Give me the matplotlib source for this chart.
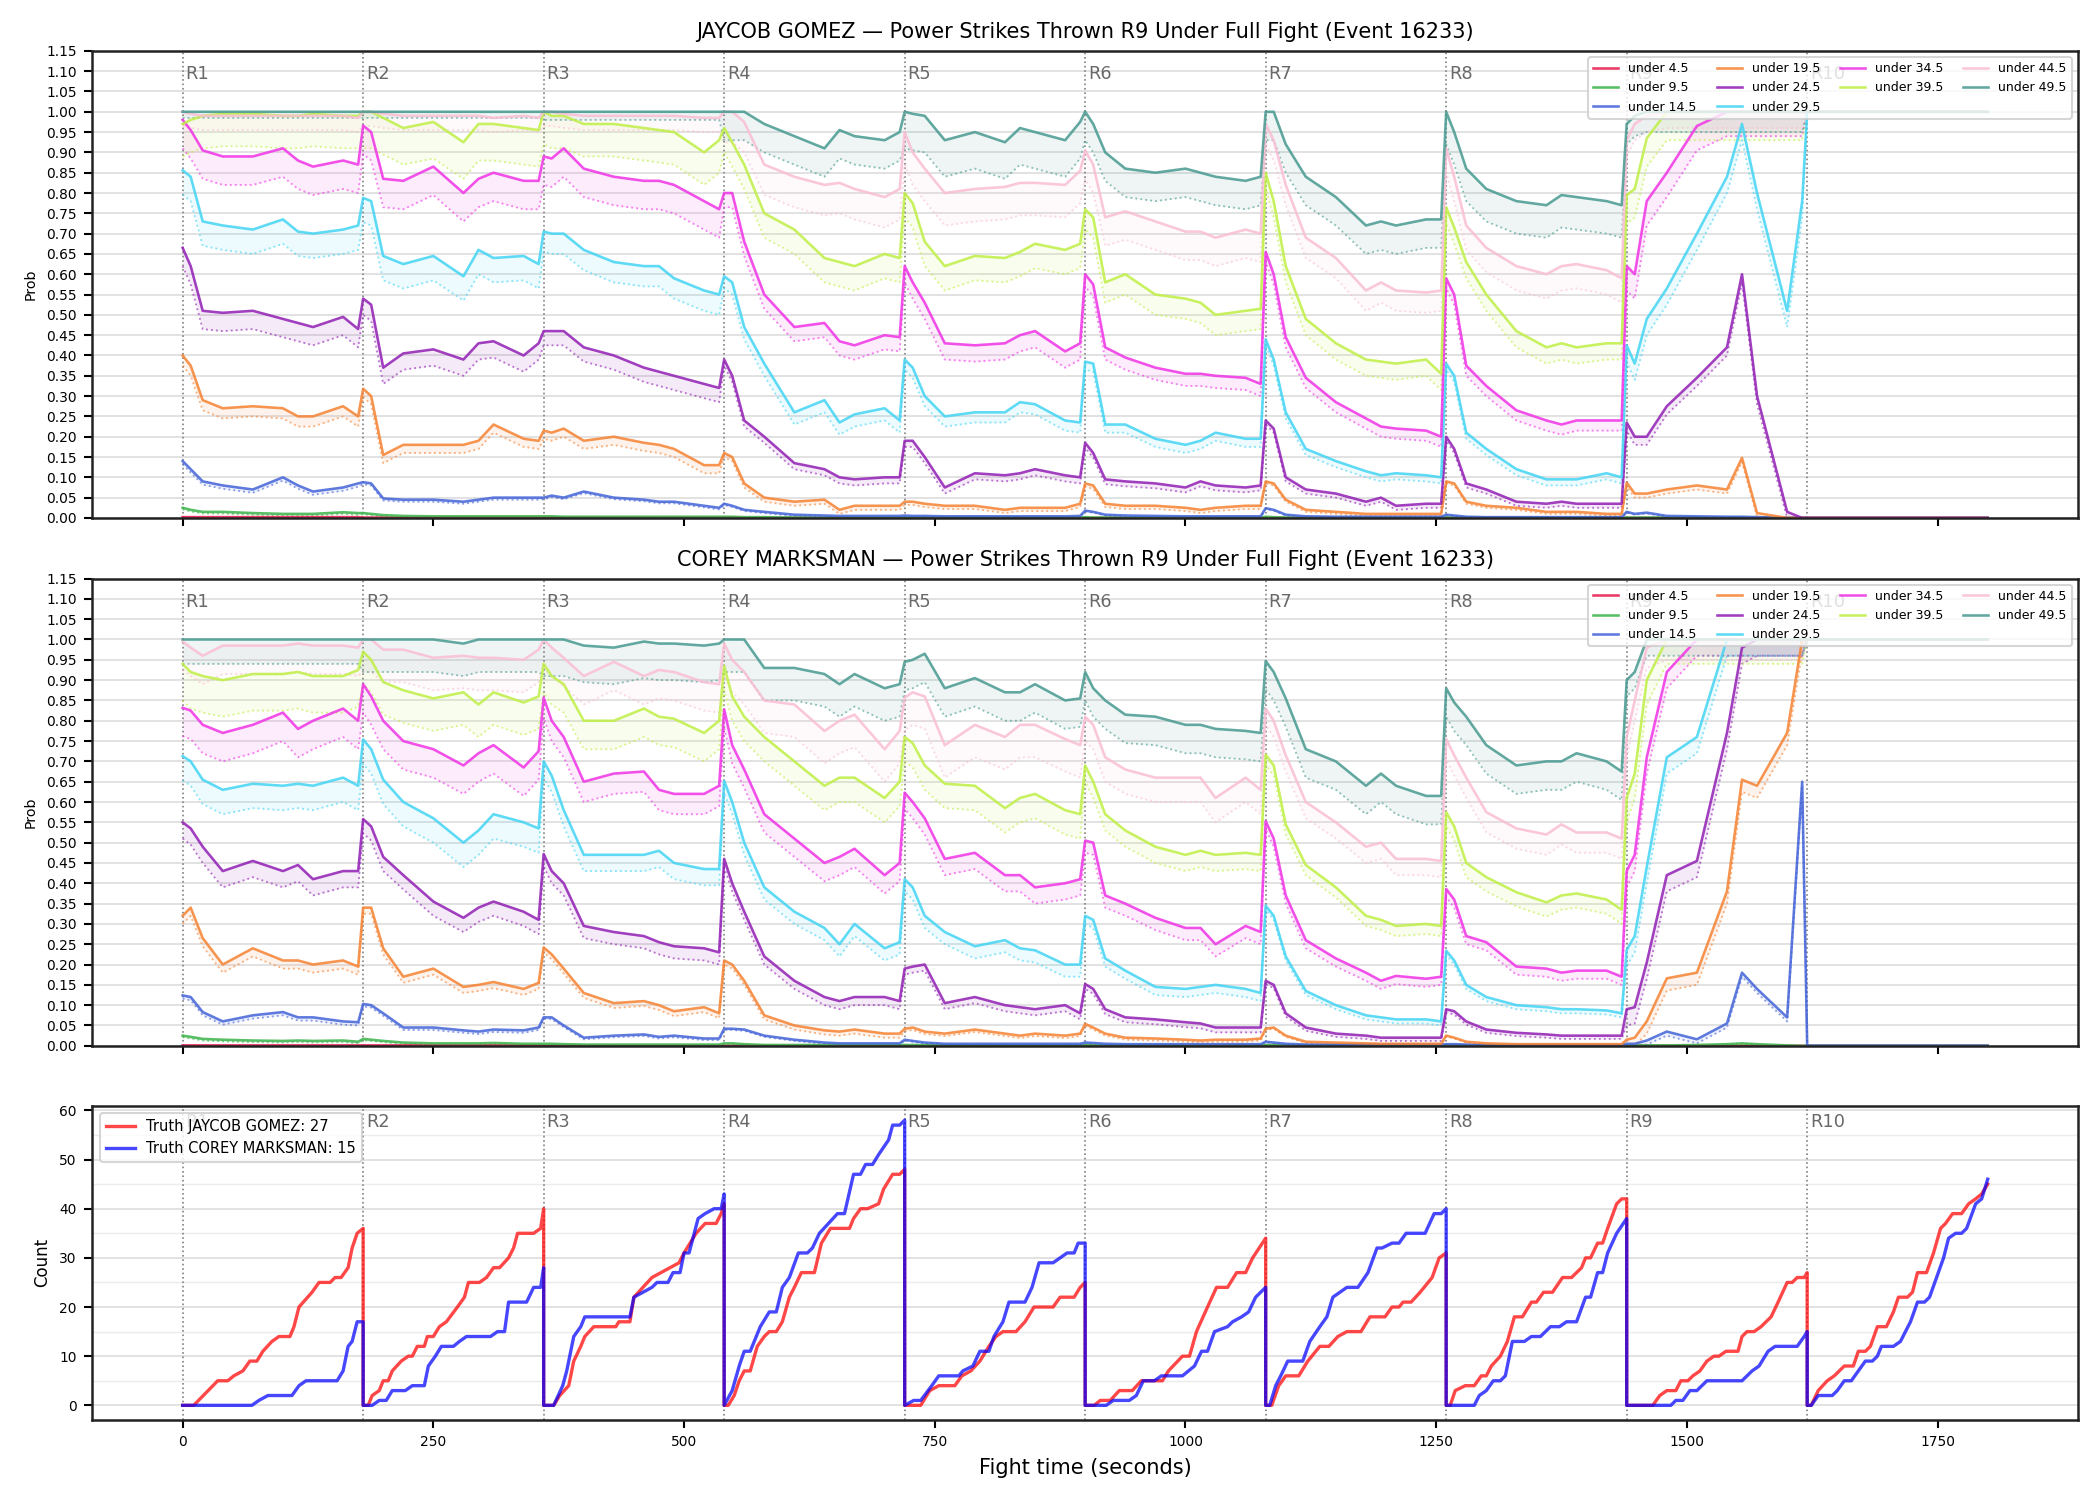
import numpy as np
import matplotlib.pyplot as plt
import matplotlib.transforms as mtransforms
from matplotlib.ticker import MultipleLocator

EVENT = 16233
FIGHTERS = ["JAYCOB GOMEZ", "COREY MARKSMAN"]
TRUTH_R9 = [27, 15]
LINES = [4.5, 9.5, 14.5, 19.5, 24.5, 29.5, 34.5, 39.5, 44.5, 49.5]
COLORS = ["#e6194b", "#3cb44b", "#4363d8", "#f58231", "#911eb4",
          "#42d4f4", "#f032e6", "#bfef45", "#fabed4", "#469990"]
ROUND_STARTS = [0, 180, 360, 540, 720, 900, 1080, 1260, 1440, 1620]
FIGHT_END = 1800
# seconds into each round where the probabilities were read
OFFS = [0, 8, 20, 40, 70, 100, 115, 130, 160, 175]

# ---- JAYCOB GOMEZ: P(R9 power strikes under line), rows = R1..R9 ----
JG_U4 = [
    [0.002, 0.002, 0.002, 0.002, 0.002, 0.002, 0.002, 0.002, 0.002, 0.002],
    [0.001, 0.001, 0.001, 0.001, 0.001, 0.001, 0.001, 0.001, 0.001, 0.001],
    [0.001, 0.001, 0.001, 0.001, 0.001, 0.001, 0.001, 0.001, 0.001, 0.001],
    [0.001, 0.001, 0.0, 0.0, 0.0, 0.0, 0.0, 0.0, 0.0, 0.0],
    [0.0, 0.0, 0.0, 0.0, 0.0, 0.0, 0.0, 0.0, 0.0, 0.0],
    [0.0, 0.0, 0.0, 0.0, 0.0, 0.0, 0.0, 0.0, 0.0, 0.0],
    [0.0, 0.0, 0.0, 0.0, 0.0, 0.0, 0.0, 0.0, 0.0, 0.0],
    [0.0, 0.0, 0.0, 0.0, 0.0, 0.0, 0.0, 0.0, 0.0, 0.0],
    [0.0, 0.0, 0.0, 0.0, 0.0, 0.0, 0.0, 0.0, 0.0, 0.0],
]
JG_U9 = [
    [0.025, 0.02, 0.015, 0.015, 0.012, 0.01, 0.01, 0.01, 0.014, 0.012],
    [0.012, 0.01, 0.007, 0.005, 0.004, 0.004, 0.004, 0.004, 0.004, 0.004],
    [0.004, 0.004, 0.003, 0.003, 0.003, 0.003, 0.003, 0.003, 0.003, 0.003],
    [0.003, 0.003, 0.002, 0.002, 0.001, 0.001, 0.001, 0.001, 0.001, 0.001],
    [0.001, 0.001, 0.001, 0.001, 0.001, 0.001, 0.001, 0.001, 0.001, 0.001],
    [0.002, 0.001, 0.001, 0.001, 0.001, 0.001, 0.001, 0.001, 0.001, 0.001],
    [0.003, 0.002, 0.001, 0.001, 0.001, 0.001, 0.001, 0.001, 0.001, 0.001],
    [0.001, 0.001, 0.001, 0.001, 0.001, 0.001, 0.001, 0.001, 0.001, 0.001],
    [0.001, 0.001, 0.001, 0.001, 0.001, 0.001, 0.001, 0.0, 0.0, 0.0],
]
JG_U14 = [
    [0.14, 0.12, 0.09, 0.08, 0.07, 0.10, 0.08, 0.065, 0.075, 0.085],
    [0.088, 0.085, 0.048, 0.045, 0.045, 0.04, 0.045, 0.05, 0.05, 0.05],
    [0.05, 0.055, 0.05, 0.065, 0.05, 0.045, 0.04, 0.04, 0.03, 0.025],
    [0.035, 0.03, 0.02, 0.015, 0.008, 0.006, 0.005, 0.005, 0.005, 0.005],
    [0.006, 0.005, 0.005, 0.004, 0.004, 0.004, 0.004, 0.004, 0.004, 0.005],
    [0.018, 0.015, 0.008, 0.006, 0.005, 0.004, 0.004, 0.004, 0.004, 0.004],
    [0.024, 0.02, 0.008, 0.004, 0.003, 0.003, 0.003, 0.003, 0.003, 0.003],
    [0.008, 0.006, 0.003, 0.002, 0.002, 0.002, 0.002, 0.002, 0.002, 0.002],
    [0.015, 0.01, 0.013, 0.005, 0.004, 0.003, 0.003, 0.002, 0.0, 0.0],
]
JG_U19 = [
    [0.40, 0.375, 0.29, 0.27, 0.275, 0.27, 0.25, 0.25, 0.275, 0.25],
    [0.318, 0.30, 0.155, 0.18, 0.18, 0.18, 0.19, 0.23, 0.195, 0.19],
    [0.215, 0.21, 0.22, 0.19, 0.20, 0.185, 0.18, 0.17, 0.13, 0.13],
    [0.16, 0.15, 0.085, 0.05, 0.04, 0.045, 0.02, 0.03, 0.03, 0.03],
    [0.04, 0.04, 0.035, 0.03, 0.03, 0.02, 0.025, 0.025, 0.025, 0.035],
    [0.085, 0.08, 0.035, 0.03, 0.03, 0.025, 0.02, 0.025, 0.03, 0.03],
    [0.09, 0.085, 0.045, 0.02, 0.015, 0.01, 0.01, 0.01, 0.01, 0.01],
    [0.09, 0.085, 0.04, 0.03, 0.025, 0.015, 0.015, 0.015, 0.01, 0.01],
    [0.087, 0.06, 0.06, 0.07, 0.08, 0.07, 0.148, 0.012, 0.0, 0.0],
]
JG_U24 = [
    [0.665, 0.62, 0.51, 0.505, 0.51, 0.49, 0.48, 0.47, 0.495, 0.465],
    [0.54, 0.525, 0.37, 0.405, 0.415, 0.39, 0.43, 0.435, 0.40, 0.43],
    [0.46, 0.46, 0.46, 0.42, 0.40, 0.37, 0.36, 0.35, 0.33, 0.32],
    [0.39, 0.35, 0.24, 0.20, 0.135, 0.12, 0.10, 0.095, 0.10, 0.10],
    [0.19, 0.19, 0.15, 0.075, 0.11, 0.105, 0.11, 0.12, 0.105, 0.10],
    [0.185, 0.16, 0.095, 0.09, 0.085, 0.075, 0.09, 0.08, 0.075, 0.08],
    [0.24, 0.22, 0.10, 0.07, 0.06, 0.04, 0.05, 0.03, 0.035, 0.035],
    [0.20, 0.17, 0.085, 0.07, 0.04, 0.035, 0.04, 0.035, 0.035, 0.035],
    [0.235, 0.20, 0.20, 0.275, 0.345, 0.42, 0.60, 0.30, 0.015, 0.0],
]
JG_U29 = [
    [0.856, 0.84, 0.73, 0.72, 0.71, 0.735, 0.705, 0.70, 0.71, 0.72],
    [0.788, 0.78, 0.645, 0.625, 0.645, 0.595, 0.66, 0.64, 0.645, 0.625],
    [0.705, 0.70, 0.70, 0.66, 0.63, 0.62, 0.62, 0.59, 0.56, 0.55],
    [0.595, 0.58, 0.47, 0.38, 0.26, 0.29, 0.235, 0.255, 0.27, 0.24],
    [0.39, 0.37, 0.30, 0.25, 0.26, 0.26, 0.285, 0.28, 0.24, 0.235],
    [0.385, 0.38, 0.23, 0.23, 0.195, 0.18, 0.19, 0.21, 0.195, 0.195],
    [0.44, 0.39, 0.26, 0.17, 0.14, 0.115, 0.105, 0.11, 0.105, 0.10],
    [0.38, 0.35, 0.21, 0.17, 0.12, 0.095, 0.095, 0.095, 0.11, 0.10],
    [0.425, 0.38, 0.49, 0.565, 0.70, 0.84, 0.97, 0.80, 0.51, 0.78],
]
JG_U34 = [
    [0.98, 0.955, 0.905, 0.89, 0.89, 0.91, 0.88, 0.865, 0.88, 0.87],
    [0.966, 0.95, 0.835, 0.83, 0.865, 0.80, 0.835, 0.85, 0.83, 0.83],
    [0.89, 0.885, 0.91, 0.86, 0.84, 0.83, 0.83, 0.82, 0.78, 0.76],
    [0.80, 0.80, 0.68, 0.55, 0.47, 0.48, 0.435, 0.425, 0.45, 0.445],
    [0.62, 0.58, 0.53, 0.43, 0.425, 0.43, 0.45, 0.46, 0.41, 0.43],
    [0.60, 0.575, 0.42, 0.395, 0.37, 0.355, 0.355, 0.35, 0.345, 0.33],
    [0.655, 0.60, 0.445, 0.345, 0.285, 0.245, 0.225, 0.22, 0.215, 0.20],
    [0.59, 0.55, 0.375, 0.325, 0.265, 0.24, 0.23, 0.24, 0.24, 0.24],
    [0.62, 0.60, 0.78, 0.85, 0.965, 1.0, 1.0, 1.0, 1.0, 1.0],
]
JG_U39 = [
    [0.97, 0.98, 0.99, 0.995, 0.995, 0.99, 0.99, 0.995, 0.99, 0.99],
    [1.0, 1.0, 0.985, 0.96, 0.975, 0.925, 0.97, 0.97, 0.96, 0.955],
    [1.0, 0.99, 0.99, 0.97, 0.97, 0.96, 0.955, 0.95, 0.90, 0.93],
    [0.96, 0.925, 0.87, 0.75, 0.71, 0.64, 0.63, 0.62, 0.65, 0.64],
    [0.80, 0.775, 0.68, 0.62, 0.645, 0.64, 0.655, 0.675, 0.66, 0.675],
    [0.76, 0.74, 0.58, 0.60, 0.55, 0.54, 0.53, 0.50, 0.51, 0.515],
    [0.85, 0.78, 0.62, 0.49, 0.43, 0.39, 0.385, 0.38, 0.39, 0.355],
    [0.765, 0.715, 0.63, 0.55, 0.46, 0.42, 0.43, 0.42, 0.43, 0.43],
    [0.795, 0.81, 0.935, 1.0, 1.0, 1.0, 1.0, 1.0, 1.0, 1.0],
]
JG_U44 = [
    [1.0, 0.995, 0.99, 0.99, 0.99, 0.99, 0.99, 0.99, 0.99, 0.985],
    [1.0, 1.0, 0.995, 0.99, 0.99, 0.99, 0.99, 0.985, 0.99, 0.985],
    [1.0, 1.0, 0.995, 0.99, 0.99, 0.99, 0.99, 0.99, 0.985, 0.985],
    [1.0, 1.0, 0.975, 0.87, 0.84, 0.82, 0.825, 0.81, 0.79, 0.81],
    [0.95, 0.90, 0.86, 0.80, 0.81, 0.815, 0.825, 0.825, 0.82, 0.855],
    [0.905, 0.87, 0.74, 0.755, 0.73, 0.705, 0.705, 0.69, 0.71, 0.70],
    [0.97, 0.93, 0.82, 0.69, 0.64, 0.56, 0.58, 0.56, 0.555, 0.56],
    [0.91, 0.84, 0.72, 0.665, 0.62, 0.60, 0.62, 0.625, 0.61, 0.59],
    [0.93, 0.97, 0.99, 1.0, 1.0, 1.0, 1.0, 1.0, 1.0, 1.0],
]
JG_U49 = [
    [1.0, 1.0, 1.0, 1.0, 1.0, 1.0, 1.0, 1.0, 1.0, 1.0],
    [1.0, 1.0, 1.0, 1.0, 1.0, 1.0, 1.0, 1.0, 1.0, 1.0],
    [1.0, 1.0, 1.0, 1.0, 1.0, 1.0, 1.0, 1.0, 1.0, 1.0],
    [1.0, 1.0, 1.0, 0.97, 0.94, 0.91, 0.955, 0.94, 0.93, 0.95],
    [1.0, 0.995, 0.99, 0.93, 0.95, 0.925, 0.96, 0.95, 0.93, 0.975],
    [1.0, 0.97, 0.90, 0.86, 0.85, 0.86, 0.85, 0.84, 0.83, 0.84],
    [1.0, 1.0, 0.92, 0.84, 0.79, 0.72, 0.73, 0.72, 0.735, 0.735],
    [1.0, 0.95, 0.86, 0.81, 0.78, 0.77, 0.795, 0.79, 0.78, 0.77],
    [0.97, 0.99, 1.0, 1.0, 1.0, 1.0, 1.0, 1.0, 1.0, 1.0],
]
# distance from the solid line down to the dotted line, per round R1..R9
JG_GAP = [
    [0.001, 0.001, 0.001, 0.0, 0.0, 0.0, 0.0, 0.0, 0.0],
    [0.004, 0.003, 0.002, 0.001, 0.001, 0.001, 0.001, 0.001, 0.001],
    [0.008, 0.005, 0.004, 0.003, 0.002, 0.002, 0.002, 0.001, 0.002],
    [0.025, 0.02, 0.02, 0.01, 0.008, 0.008, 0.005, 0.005, 0.01],
    [0.045, 0.04, 0.035, 0.015, 0.015, 0.012, 0.01, 0.01, 0.02],
    [0.06, 0.06, 0.05, 0.03, 0.025, 0.02, 0.015, 0.015, 0.04],
    [0.07, 0.07, 0.07, 0.035, 0.04, 0.03, 0.025, 0.025, 0.06],
    [0.08, 0.09, 0.08, 0.06, 0.06, 0.05, 0.04, 0.04, 0.07],
    [0.035, 0.035, 0.035, 0.075, 0.08, 0.07, 0.05, 0.06, 0.04],
    [0.015, 0.015, 0.02, 0.07, 0.09, 0.07, 0.07, 0.08, 0.05],
]

# ---- COREY MARKSMAN ----
CM_U4 = [
    [0.001, 0.001, 0.001, 0.001, 0.001, 0.001, 0.001, 0.001, 0.001, 0.001],
    [0.001, 0.001, 0.001, 0.001, 0.001, 0.001, 0.001, 0.001, 0.001, 0.001],
    [0.0, 0.0, 0.0, 0.0, 0.0, 0.0, 0.0, 0.0, 0.0, 0.0],
    [0.0, 0.0, 0.0, 0.0, 0.0, 0.0, 0.0, 0.0, 0.0, 0.0],
    [0.0, 0.0, 0.0, 0.0, 0.0, 0.0, 0.0, 0.0, 0.0, 0.0],
    [0.0, 0.0, 0.0, 0.0, 0.0, 0.0, 0.0, 0.0, 0.0, 0.0],
    [0.0, 0.0, 0.0, 0.0, 0.0, 0.0, 0.0, 0.0, 0.0, 0.0],
    [0.0, 0.0, 0.0, 0.0, 0.0, 0.0, 0.0, 0.0, 0.0, 0.0],
    [0.0, 0.0, 0.0, 0.0, 0.0, 0.0, 0.0, 0.0, 0.0, 0.0],
]
CM_U9 = [
    [0.025, 0.022, 0.017, 0.015, 0.013, 0.012, 0.013, 0.012, 0.013, 0.01],
    [0.017, 0.015, 0.012, 0.008, 0.006, 0.006, 0.006, 0.007, 0.005, 0.005],
    [0.005, 0.005, 0.004, 0.003, 0.003, 0.003, 0.003, 0.003, 0.003, 0.003],
    [0.006, 0.006, 0.004, 0.002, 0.002, 0.002, 0.002, 0.002, 0.002, 0.002],
    [0.002, 0.002, 0.002, 0.001, 0.001, 0.001, 0.001, 0.001, 0.001, 0.001],
    [0.002, 0.002, 0.001, 0.001, 0.001, 0.001, 0.001, 0.001, 0.001, 0.001],
    [0.002, 0.002, 0.001, 0.001, 0.001, 0.001, 0.001, 0.001, 0.001, 0.001],
    [0.001, 0.001, 0.001, 0.001, 0.001, 0.001, 0.001, 0.001, 0.001, 0.001],
    [0.001, 0.001, 0.001, 0.001, 0.002, 0.004, 0.006, 0.004, 0.001, 0.0],
]
CM_U14 = [
    [0.124, 0.12, 0.083, 0.06, 0.075, 0.083, 0.07, 0.07, 0.06, 0.058],
    [0.103, 0.10, 0.08, 0.045, 0.045, 0.038, 0.035, 0.04, 0.038, 0.045],
    [0.07, 0.07, 0.05, 0.02, 0.025, 0.028, 0.022, 0.025, 0.018, 0.018],
    [0.042, 0.042, 0.04, 0.025, 0.015, 0.008, 0.006, 0.006, 0.006, 0.006],
    [0.015, 0.012, 0.008, 0.005, 0.005, 0.005, 0.005, 0.005, 0.005, 0.005],
    [0.008, 0.007, 0.005, 0.004, 0.004, 0.004, 0.004, 0.004, 0.004, 0.004],
    [0.01, 0.008, 0.005, 0.003, 0.003, 0.003, 0.003, 0.003, 0.003, 0.003],
    [0.004, 0.004, 0.003, 0.002, 0.002, 0.002, 0.002, 0.002, 0.002, 0.002],
    [0.005, 0.005, 0.013, 0.035, 0.016, 0.055, 0.18, 0.14, 0.07, 0.65],
]
CM_U19 = [
    [0.32, 0.34, 0.265, 0.20, 0.24, 0.21, 0.21, 0.20, 0.21, 0.195],
    [0.34, 0.34, 0.24, 0.17, 0.19, 0.145, 0.15, 0.157, 0.14, 0.155],
    [0.242, 0.225, 0.19, 0.13, 0.105, 0.11, 0.10, 0.085, 0.095, 0.08],
    [0.21, 0.20, 0.16, 0.075, 0.05, 0.038, 0.035, 0.04, 0.03, 0.03],
    [0.042, 0.045, 0.035, 0.03, 0.04, 0.03, 0.025, 0.03, 0.025, 0.03],
    [0.054, 0.045, 0.03, 0.02, 0.018, 0.015, 0.013, 0.015, 0.015, 0.018],
    [0.042, 0.045, 0.025, 0.01, 0.008, 0.006, 0.005, 0.005, 0.005, 0.005],
    [0.025, 0.02, 0.01, 0.006, 0.004, 0.004, 0.004, 0.004, 0.004, 0.004],
    [0.015, 0.02, 0.06, 0.166, 0.18, 0.38, 0.655, 0.64, 0.77, 1.0],
]
CM_U24 = [
    [0.55, 0.535, 0.49, 0.43, 0.455, 0.43, 0.445, 0.41, 0.43, 0.43],
    [0.558, 0.54, 0.465, 0.42, 0.355, 0.315, 0.34, 0.355, 0.33, 0.31],
    [0.472, 0.43, 0.40, 0.295, 0.28, 0.27, 0.255, 0.245, 0.24, 0.23],
    [0.46, 0.40, 0.33, 0.22, 0.16, 0.12, 0.11, 0.12, 0.12, 0.11],
    [0.19, 0.195, 0.20, 0.105, 0.12, 0.10, 0.095, 0.09, 0.10, 0.08],
    [0.152, 0.14, 0.09, 0.07, 0.065, 0.058, 0.055, 0.045, 0.045, 0.045],
    [0.16, 0.15, 0.08, 0.045, 0.03, 0.025, 0.02, 0.02, 0.02, 0.02],
    [0.09, 0.085, 0.06, 0.04, 0.032, 0.028, 0.025, 0.025, 0.025, 0.025],
    [0.09, 0.095, 0.205, 0.42, 0.455, 0.77, 0.98, 1.0, 1.0, 1.0],
]
CM_U29 = [
    [0.713, 0.70, 0.655, 0.63, 0.645, 0.64, 0.645, 0.64, 0.66, 0.64],
    [0.754, 0.73, 0.655, 0.60, 0.56, 0.50, 0.53, 0.57, 0.55, 0.535],
    [0.70, 0.665, 0.58, 0.47, 0.47, 0.47, 0.48, 0.45, 0.435, 0.435],
    [0.652, 0.60, 0.50, 0.39, 0.33, 0.29, 0.25, 0.30, 0.24, 0.255],
    [0.41, 0.39, 0.32, 0.28, 0.245, 0.26, 0.24, 0.235, 0.20, 0.20],
    [0.32, 0.31, 0.215, 0.185, 0.145, 0.14, 0.145, 0.15, 0.14, 0.13],
    [0.345, 0.32, 0.22, 0.135, 0.10, 0.075, 0.07, 0.065, 0.065, 0.06],
    [0.234, 0.21, 0.15, 0.12, 0.10, 0.095, 0.09, 0.09, 0.087, 0.08],
    [0.236, 0.27, 0.44, 0.71, 0.76, 1.0, 1.0, 1.0, 1.0, 1.0],
]
CM_U34 = [
    [0.832, 0.825, 0.79, 0.77, 0.79, 0.82, 0.78, 0.80, 0.83, 0.80],
    [0.89, 0.86, 0.80, 0.75, 0.73, 0.69, 0.72, 0.74, 0.685, 0.725],
    [0.857, 0.80, 0.76, 0.65, 0.67, 0.675, 0.63, 0.62, 0.62, 0.64],
    [0.828, 0.74, 0.68, 0.57, 0.51, 0.45, 0.465, 0.485, 0.42, 0.45],
    [0.623, 0.60, 0.56, 0.46, 0.475, 0.42, 0.42, 0.39, 0.40, 0.41],
    [0.505, 0.50, 0.37, 0.35, 0.315, 0.29, 0.29, 0.25, 0.295, 0.28],
    [0.553, 0.51, 0.37, 0.26, 0.215, 0.18, 0.16, 0.172, 0.165, 0.17],
    [0.386, 0.36, 0.27, 0.255, 0.195, 0.19, 0.18, 0.185, 0.185, 0.17],
    [0.43, 0.47, 0.71, 0.92, 1.0, 1.0, 1.0, 1.0, 1.0, 1.0],
]
CM_U39 = [
    [0.94, 0.92, 0.91, 0.90, 0.915, 0.915, 0.92, 0.91, 0.91, 0.925],
    [0.97, 0.95, 0.895, 0.875, 0.855, 0.87, 0.84, 0.87, 0.845, 0.86],
    [0.94, 0.91, 0.89, 0.80, 0.80, 0.83, 0.81, 0.805, 0.77, 0.80],
    [0.935, 0.86, 0.81, 0.76, 0.70, 0.64, 0.66, 0.66, 0.61, 0.65],
    [0.76, 0.745, 0.69, 0.645, 0.64, 0.585, 0.61, 0.62, 0.58, 0.57],
    [0.69, 0.65, 0.57, 0.53, 0.49, 0.47, 0.48, 0.47, 0.475, 0.47],
    [0.717, 0.69, 0.545, 0.445, 0.39, 0.32, 0.31, 0.295, 0.30, 0.295],
    [0.575, 0.54, 0.45, 0.415, 0.378, 0.353, 0.37, 0.375, 0.36, 0.335],
    [0.61, 0.67, 0.90, 1.0, 1.0, 1.0, 1.0, 1.0, 1.0, 1.0],
]
CM_U44 = [
    [0.995, 0.98, 0.96, 0.985, 0.985, 0.985, 0.99, 0.985, 0.985, 0.98],
    [1.0, 1.0, 0.975, 0.975, 0.955, 0.96, 0.955, 0.955, 0.95, 0.975],
    [1.0, 0.98, 0.955, 0.91, 0.945, 0.91, 0.925, 0.92, 0.895, 0.89],
    [0.99, 0.95, 0.92, 0.85, 0.84, 0.775, 0.80, 0.815, 0.73, 0.775],
    [0.857, 0.87, 0.86, 0.74, 0.79, 0.76, 0.79, 0.79, 0.755, 0.74],
    [0.81, 0.79, 0.71, 0.68, 0.66, 0.66, 0.66, 0.61, 0.66, 0.63],
    [0.83, 0.80, 0.715, 0.60, 0.55, 0.49, 0.50, 0.46, 0.46, 0.455],
    [0.755, 0.715, 0.66, 0.575, 0.535, 0.52, 0.545, 0.525, 0.525, 0.51],
    [0.76, 0.85, 0.98, 1.0, 1.0, 1.0, 1.0, 1.0, 1.0, 1.0],
]
CM_U49 = [
    [1.0, 1.0, 1.0, 1.0, 1.0, 1.0, 1.0, 1.0, 1.0, 1.0],
    [1.0, 1.0, 1.0, 1.0, 1.0, 0.99, 1.0, 1.0, 1.0, 1.0],
    [1.0, 1.0, 1.0, 0.985, 0.98, 0.995, 0.99, 0.99, 0.985, 0.99],
    [1.0, 1.0, 1.0, 0.93, 0.93, 0.915, 0.89, 0.915, 0.88, 0.89],
    [0.945, 0.95, 0.965, 0.88, 0.905, 0.87, 0.87, 0.89, 0.85, 0.855],
    [0.92, 0.88, 0.85, 0.815, 0.81, 0.79, 0.79, 0.78, 0.775, 0.77],
    [0.947, 0.92, 0.855, 0.73, 0.70, 0.64, 0.67, 0.64, 0.615, 0.615],
    [0.88, 0.845, 0.81, 0.74, 0.69, 0.70, 0.70, 0.72, 0.70, 0.675],
    [0.90, 0.92, 1.0, 1.0, 1.0, 1.0, 1.0, 1.0, 1.0, 1.0],
]
CM_GAP = [
    [0.001, 0.001, 0.0, 0.0, 0.0, 0.0, 0.0, 0.0, 0.0],
    [0.004, 0.003, 0.002, 0.001, 0.001, 0.001, 0.001, 0.001, 0.001],
    [0.008, 0.006, 0.004, 0.003, 0.002, 0.002, 0.001, 0.001, 0.01],
    [0.02, 0.015, 0.012, 0.01, 0.006, 0.005, 0.003, 0.002, 0.03],
    [0.04, 0.035, 0.03, 0.02, 0.015, 0.012, 0.008, 0.008, 0.04],
    [0.06, 0.06, 0.04, 0.03, 0.03, 0.02, 0.01, 0.01, 0.04],
    [0.07, 0.07, 0.05, 0.045, 0.04, 0.03, 0.02, 0.02, 0.04],
    [0.09, 0.08, 0.07, 0.06, 0.06, 0.04, 0.025, 0.035, 0.06],
    [0.07, 0.08, 0.07, 0.08, 0.08, 0.06, 0.04, 0.05, 0.05],
    [0.06, 0.08, 0.09, 0.08, 0.07, 0.07, 0.07, 0.07, 0.04],
]

# ---- cumulative truth counts within each round: (fight second, count) ----
JG_COUNT = [
    (0, 0), (11, 0), (35, 5), (45, 5), (51, 6), (60, 7), (67, 9), (74, 9), (80, 11), (89, 13),
    (96, 14), (107, 14), (111, 16), (116, 20), (129, 23), (136, 25), (147, 25), (152, 26),
    (158, 26), (165, 28), (169, 32), (174, 35), (180, 36),
    (180, 0), (185, 0), (189, 2), (196, 3), (200, 5), (205, 5), (209, 7), (218, 9), (225, 10),
    (229, 10), (234, 12), (241, 12), (244, 14), (250, 14), (256, 16), (263, 17), (274, 20),
    (281, 22), (285, 25), (296, 25), (303, 26), (310, 28), (316, 28), (325, 30), (330, 32),
    (334, 35), (350, 35), (357, 36), (360, 40),
    (360, 0), (370, 0), (376, 2), (385, 4), (390, 9), (397, 12), (401, 14), (410, 16), (432, 16),
    (435, 17), (446, 17), (450, 22), (459, 24), (468, 26), (477, 27), (486, 28), (495, 29),
    (500, 31), (512, 35), (521, 37), (532, 37), (537, 39), (540, 41),
    (540, 0), (544, 0), (550, 2), (555, 5), (560, 7), (566, 7), (573, 12), (580, 14), (585, 15),
    (592, 15), (598, 17), (605, 22), (610, 24), (617, 27), (630, 27), (637, 33), (646, 36),
    (665, 36), (669, 38), (676, 40), (683, 40), (694, 41), (699, 44), (708, 47), (715, 47),
    (720, 48),
    (720, 0), (736, 0), (745, 3), (754, 4), (770, 4), (777, 6), (786, 7), (795, 9), (804, 12),
    (811, 14), (818, 15), (831, 15), (840, 17), (849, 20), (868, 20), (875, 22), (889, 22),
    (895, 24), (900, 25),
    (900, 0), (909, 0), (915, 1), (925, 1), (934, 3), (947, 3), (956, 5), (977, 5), (983, 7),
    (997, 10), (1004, 10), (1011, 15), (1022, 20), (1031, 24), (1042, 24), (1051, 27),
    (1060, 27), (1067, 30), (1080, 34),
    (1080, 0), (1086, 0), (1093, 4), (1100, 6), (1113, 6), (1122, 9), (1134, 12), (1143, 12),
    (1152, 14), (1161, 15), (1175, 15), (1184, 18), (1199, 18), (1206, 20), (1213, 20),
    (1217, 21), (1225, 21), (1234, 23), (1246, 26), (1253, 30), (1260, 31),
    (1260, 0), (1264, 0), (1269, 3), (1279, 4), (1288, 4), (1295, 6), (1300, 6), (1305, 8),
    (1314, 10), (1321, 13), (1328, 18), (1336, 18), (1345, 21), (1350, 21), (1357, 23),
    (1366, 23), (1376, 26), (1385, 26), (1395, 28), (1399, 30), (1404, 30), (1411, 33),
    (1416, 33), (1421, 36), (1430, 41), (1435, 42), (1440, 42),
    (1440, 0), (1466, 0), (1473, 2), (1480, 3), (1489, 3), (1494, 5), (1501, 5), (1506, 6),
    (1513, 7), (1520, 9), (1527, 10), (1532, 10), (1539, 11), (1551, 11), (1555, 14),
    (1560, 15), (1567, 15), (1574, 16), (1584, 18), (1591, 21), (1600, 25), (1605, 25),
    (1610, 26), (1617, 26), (1620, 27),
    (1620, 0), (1624, 0), (1631, 3), (1640, 5), (1647, 6), (1657, 8), (1666, 8), (1671, 11),
    (1678, 11), (1683, 12), (1690, 16), (1699, 16), (1706, 19), (1711, 22), (1720, 22),
    (1725, 23), (1730, 27), (1739, 27), (1746, 31), (1753, 36), (1758, 37), (1765, 39),
    (1774, 39), (1781, 41), (1788, 42), (1794, 43), (1800, 45),
]
CM_COUNT = [
    (0, 0), (69, 0), (76, 1), (85, 2), (109, 2), (116, 4), (123, 5), (154, 5), (160, 7),
    (165, 12), (169, 13), (174, 17), (180, 17),
    (180, 0), (189, 0), (196, 1), (203, 1), (209, 3), (222, 3), (229, 4), (241, 4), (245, 8),
    (252, 10), (258, 12), (270, 12), (276, 13), (283, 14), (307, 14), (314, 15), (321, 15),
    (325, 21), (343, 21), (350, 24), (357, 24), (360, 28),
    (360, 0), (370, 0), (379, 4), (383, 7), (390, 14), (397, 16), (401, 18), (446, 18),
    (450, 22), (459, 23), (468, 24), (473, 25), (484, 25), (489, 27), (496, 27), (500, 31),
    (505, 31), (514, 38), (521, 39), (530, 40), (537, 40), (540, 43),
    (540, 0), (548, 3), (555, 8), (560, 11), (566, 11), (576, 16), (585, 19), (592, 19),
    (598, 24), (605, 26), (614, 31), (623, 31), (628, 32), (635, 35), (644, 37), (653, 39),
    (660, 39), (669, 47), (676, 47), (681, 49), (688, 49), (694, 51), (704, 54), (708, 57),
    (715, 57), (720, 58),
    (720, 0), (729, 1), (736, 1), (747, 4), (754, 6), (774, 6), (778, 7), (788, 8), (795, 11),
    (804, 11), (809, 14), (818, 17), (824, 21), (840, 21), (847, 24), (854, 29), (868, 29),
    (875, 30), (882, 31), (889, 31), (893, 33), (900, 33),
    (900, 0), (921, 0), (928, 1), (944, 1), (951, 2), (958, 5), (969, 5), (976, 6), (997, 6),
    (1009, 8), (1016, 11), (1022, 11), (1029, 15), (1042, 16), (1047, 17), (1056, 18),
    (1063, 19), (1070, 22), (1080, 24),
    (1080, 0), (1084, 0), (1090, 4), (1095, 6), (1102, 9), (1117, 9), (1124, 13), (1134, 16),
    (1141, 18), (1147, 22), (1154, 23), (1161, 24), (1172, 24), (1182, 27), (1191, 32),
    (1196, 32), (1206, 33), (1213, 33), (1220, 35), (1239, 35), (1248, 39), (1255, 39),
    (1260, 40),
    (1260, 0), (1288, 0), (1293, 2), (1300, 3), (1307, 5), (1314, 5), (1319, 6), (1326, 13),
    (1338, 13), (1345, 14), (1354, 14), (1364, 16), (1373, 16), (1380, 17), (1390, 17),
    (1399, 22), (1404, 22), (1411, 27), (1416, 27), (1421, 31), (1430, 35), (1440, 38),
    (1440, 0), (1484, 0), (1489, 1), (1496, 1), (1503, 3), (1510, 3), (1520, 5), (1555, 5),
    (1565, 7), (1572, 8), (1581, 11), (1588, 12), (1610, 12), (1617, 14), (1620, 15),
    (1620, 0), (1624, 0), (1631, 2), (1645, 2), (1650, 3), (1657, 5), (1664, 5), (1671, 7),
    (1678, 9), (1685, 9), (1690, 10), (1694, 12), (1706, 12), (1713, 13), (1718, 15),
    (1723, 17), (1730, 21), (1737, 21), (1742, 22), (1749, 26), (1756, 30), (1761, 34),
    (1768, 35), (1774, 35), (1779, 36), (1788, 41), (1794, 42), (1800, 46),
]

TABLES = [
    [JG_U4, JG_U9, JG_U14, JG_U19, JG_U24, JG_U29, JG_U34, JG_U39, JG_U44, JG_U49],
    [CM_U4, CM_U9, CM_U14, CM_U19, CM_U24, CM_U29, CM_U34, CM_U39, CM_U44, CM_U49],
]
GAPS = [JG_GAP, CM_GAP]

FS_TICK = 6.6
GRID_C = "#dddddd"


def add_rounds(ax):
    trans = mtransforms.blended_transform_factory(ax.transData, ax.transAxes)
    for i, s in enumerate(ROUND_STARTS):
        ax.axvline(s, color="gray", ls=":", lw=0.8, zorder=1.5)
        ax.text(s + 3, 0.95, f"R{i + 1}", transform=trans, color="dimgray",
                fontsize=8.5, va="center", ha="left")


def style(ax):
    for sp in ax.spines.values():
        sp.set_linewidth(1.2)
        sp.set_color("#222222")
    ax.tick_params(labelsize=FS_TICK, length=4, width=1.0)
    ax.set_axisbelow(True)
    ax.set_xlim(-90, 1890)
    ax.xaxis.set_major_locator(MultipleLocator(250))


def draw_probs(ax, fighter, truth, table, gaps):
    t = [s + o for s in ROUND_STARTS[:9] for o in OFFS] + [ROUND_STARTS[9], FIGHT_END]
    for line, color, rows, gap in zip(LINES, COLORS, table, gaps):
        settled = 1.0 if truth < line else 0.0
        hi = np.array([v for row in rows for v in row] + [settled, settled])
        g = np.array([gv for gv in gap for _ in OFFS] + [0.0, 0.0])
        lo = np.clip(hi - g, 0, 1)
        ax.fill_between(t, lo, hi, color=color, alpha=0.09, lw=0, zorder=1)
        ax.plot(t, lo, color=color, ls=":", lw=0.9, alpha=0.6, zorder=2)
        ax.plot(t, hi, color=color, lw=1.25, alpha=0.85, zorder=2.5,
                label=f"under {line}")
    ax.set_ylim(0, 1.15)
    ax.yaxis.set_major_locator(MultipleLocator(0.05))
    ax.yaxis.set_major_formatter(plt.FormatStrFormatter("%.2f"))
    ax.grid(axis="y", color=GRID_C, lw=0.8)
    ax.set_ylabel("Prob", fontsize=6.8)
    ax.set_title(f"{fighter} \u2014 Power Strikes Thrown R9 Under Full Fight (Event {EVENT})",
                 fontsize=10)
    add_rounds(ax)
    ax.legend(loc="upper right", ncol=4, fontsize=6, framealpha=0.8,
              handlelength=2.0, columnspacing=1.6)
    ax.tick_params(labelbottom=False)


fig = plt.figure(figsize=(14, 10), dpi=150)
ax1 = fig.add_axes([0.044, 0.6547, 0.9455, 0.3114])
ax2 = fig.add_axes([0.044, 0.3028, 0.9455, 0.3115], sharex=ax1)
ax3 = fig.add_axes([0.044, 0.0536, 0.9455, 0.2091], sharex=ax1)

for ax, fighter, truth, table, gaps in zip([ax1, ax2], FIGHTERS, TRUTH_R9, TABLES, GAPS):
    style(ax)
    draw_probs(ax, fighter, truth, table, gaps)

style(ax3)
jt, jn = zip(*JG_COUNT)
ct, cn = zip(*CM_COUNT)
ax3.plot(jt, jn, color="red", lw=1.6, alpha=0.72, label=f"Truth {FIGHTERS[0]}: {TRUTH_R9[0]}")
ax3.plot(ct, cn, color="blue", lw=1.6, alpha=0.72, label=f"Truth {FIGHTERS[1]}: {TRUTH_R9[1]}")
ax3.yaxis.set_major_locator(MultipleLocator(10))
ax3.yaxis.set_minor_locator(MultipleLocator(5))
ax3.grid(axis="y", which="major", color=GRID_C, lw=0.8)
ax3.grid(axis="y", which="minor", color="#ececec", lw=0.7)
ax3.tick_params(axis="y", which="minor", length=0)
add_rounds(ax3)
ax3.legend(loc="upper left", fontsize=7, framealpha=0.8)
ax3.set_ylabel("Count", fontsize=8)
ax3.set_xlabel("Fight time (seconds)", fontsize=10)
ax3.tick_params(labelbottom=True)

fig.savefig("out.png", dpi=150)
